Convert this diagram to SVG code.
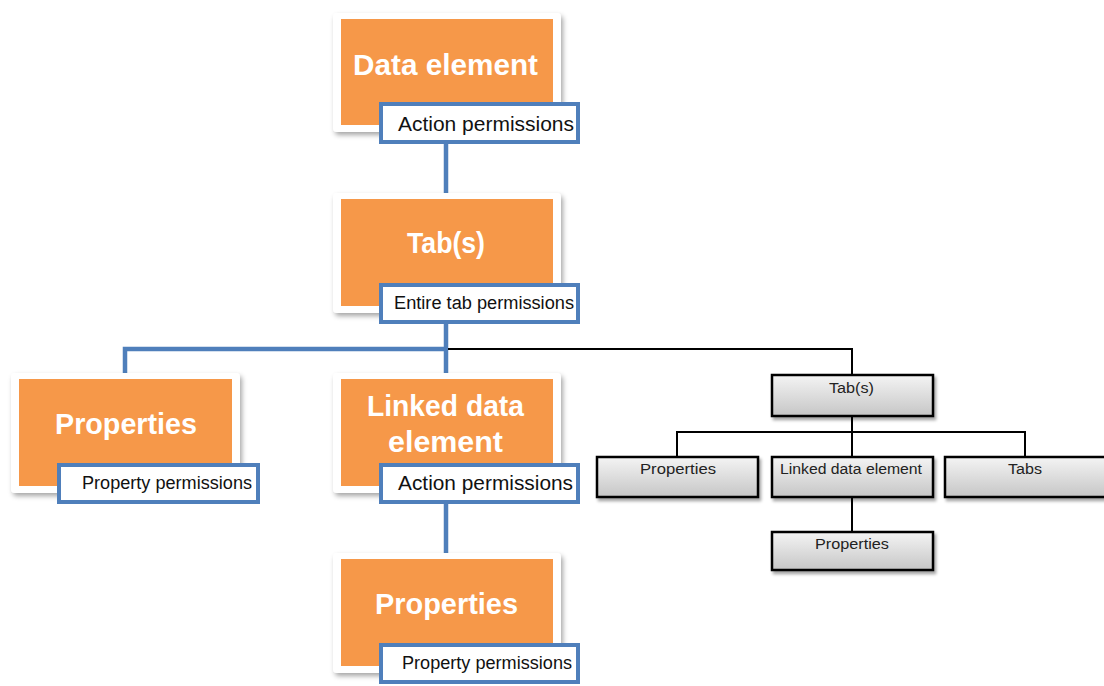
<svg xmlns="http://www.w3.org/2000/svg" width="1104" height="686" viewBox="0 0 1104 686">
<defs>
<filter id="sh" x="-10%" y="-10%" width="125%" height="130%">
<feDropShadow dx="2" dy="3" stdDeviation="2.5" flood-color="#000" flood-opacity="0.35"/>
</filter>
<filter id="gsh" x="-10%" y="-20%" width="125%" height="150%">
<feDropShadow dx="2" dy="3" stdDeviation="1.5" flood-color="#000" flood-opacity="0.35"/>
</filter>
<linearGradient id="gray" x1="0" y1="0" x2="0" y2="1">
<stop offset="0" stop-color="#f4f4f4"/>
<stop offset="1" stop-color="#c6c6c6"/>
</linearGradient>
<style>
.frame{fill:#fff;filter:url(#sh)}
.orange{fill:#F69849}
.title{font-family:"Liberation Sans",Arial,sans-serif;font-weight:bold;font-size:29px;fill:#fff}
.lbox{fill:#fff;stroke:#4F7FBB;stroke-width:4}
.ltext{font-family:"Liberation Sans",Arial,sans-serif;font-size:18px;fill:#111}
.blue{stroke:#4F7FBB;stroke-width:4.5;fill:none}
.black{stroke:#000;stroke-width:2;fill:none}
.gbox{fill:url(#gray);stroke:#000;stroke-width:2.5;filter:url(#gsh)}
.gtext{font-family:"Liberation Sans",Arial,sans-serif;font-size:15.5px;fill:#222}
</style>
</defs>
<rect width="1104" height="686" fill="#fff"/>

<g id="connectors">
<path class="blue" d="M446 144V194"/>
<path class="blue" d="M446 324V374"/>
<path class="blue" d="M125 374V349H446"/>
<path class="blue" d="M446 504V554"/>
<path class="black" d="M448 349H852V375"/>
<path class="black" d="M852 416V432M677 457V432H1025V457M852 432V457"/>
<path class="black" d="M852 497V532"/>
</g>

<g id="data-element">
<rect class="frame" x="333" y="13" width="228" height="119" rx="4"/>
<rect class="orange" x="341" y="19" width="212" height="106"/>
<text class="title" x="353" y="75" textLength="185" lengthAdjust="spacingAndGlyphs">Data element</text>
<rect class="lbox" x="381" y="104" width="197" height="38"/>
<text class="ltext" x="398" y="131" font-size="20" textLength="176" lengthAdjust="spacingAndGlyphs" style="font-size:20px">Action permissions</text>
</g>

<g id="tabs">
<rect class="frame" x="333" y="193" width="228" height="120" rx="4"/>
<rect class="orange" x="341" y="199" width="212" height="107"/>
<text class="title" x="407" y="253" textLength="78" lengthAdjust="spacingAndGlyphs">Tab(s)</text>
<rect class="lbox" x="381" y="285" width="197" height="37"/>
<text class="ltext" x="394" y="309" textLength="180" lengthAdjust="spacingAndGlyphs">Entire tab permissions</text>
</g>

<g id="properties-left">
<rect class="frame" x="11" y="373" width="229" height="120" rx="4"/>
<rect class="orange" x="19" y="379" width="213" height="107"/>
<text class="title" x="55" y="434" textLength="142" lengthAdjust="spacingAndGlyphs">Properties</text>
<rect class="lbox" x="59" y="465" width="199" height="37"/>
<text class="ltext" x="82" y="489" textLength="170" lengthAdjust="spacingAndGlyphs">Property permissions</text>
</g>

<g id="linked-data-element">
<rect class="frame" x="333" y="373" width="228" height="120" rx="4"/>
<rect class="orange" x="341" y="379" width="212" height="107"/>
<text class="title" x="367" y="416" textLength="157" lengthAdjust="spacingAndGlyphs">Linked data</text>
<text class="title" x="388" y="452" textLength="115" lengthAdjust="spacingAndGlyphs">element</text>
<rect class="lbox" x="381" y="465" width="197" height="37"/>
<text class="ltext" x="398" y="490" textLength="175" lengthAdjust="spacingAndGlyphs" style="font-size:20px">Action permissions</text>
</g>

<g id="properties-bottom">
<rect class="frame" x="333" y="553" width="228" height="120" rx="4"/>
<rect class="orange" x="341" y="559" width="212" height="107"/>
<text class="title" x="375" y="614" textLength="143" lengthAdjust="spacingAndGlyphs">Properties</text>
<rect class="lbox" x="381" y="645" width="197" height="37"/>
<text class="ltext" x="402" y="669" textLength="170" lengthAdjust="spacingAndGlyphs">Property permissions</text>
</g>

<g id="gray-tabs">
<rect class="gbox" x="772" y="375" width="161" height="41"/>
<text class="gtext" x="829" y="393" textLength="45" lengthAdjust="spacingAndGlyphs">Tab(s)</text>
</g>
<g id="gray-properties">
<rect class="gbox" x="597" y="457" width="161" height="40"/>
<text class="gtext" x="640" y="474" textLength="76" lengthAdjust="spacingAndGlyphs">Properties</text>
</g>
<g id="gray-linked">
<rect class="gbox" x="772" y="457" width="161" height="40"/>
<text class="gtext" x="780" y="474" textLength="142" lengthAdjust="spacingAndGlyphs">Linked data element</text>
</g>
<g id="gray-tabs2">
<rect class="gbox" x="945" y="457" width="170" height="40"/>
<text class="gtext" x="1008" y="474" textLength="34" lengthAdjust="spacingAndGlyphs">Tabs</text>
</g>
<g id="gray-properties2">
<rect class="gbox" x="772" y="532" width="161" height="38"/>
<text class="gtext" x="815" y="549" textLength="74" lengthAdjust="spacingAndGlyphs">Properties</text>
</g>
</svg>
